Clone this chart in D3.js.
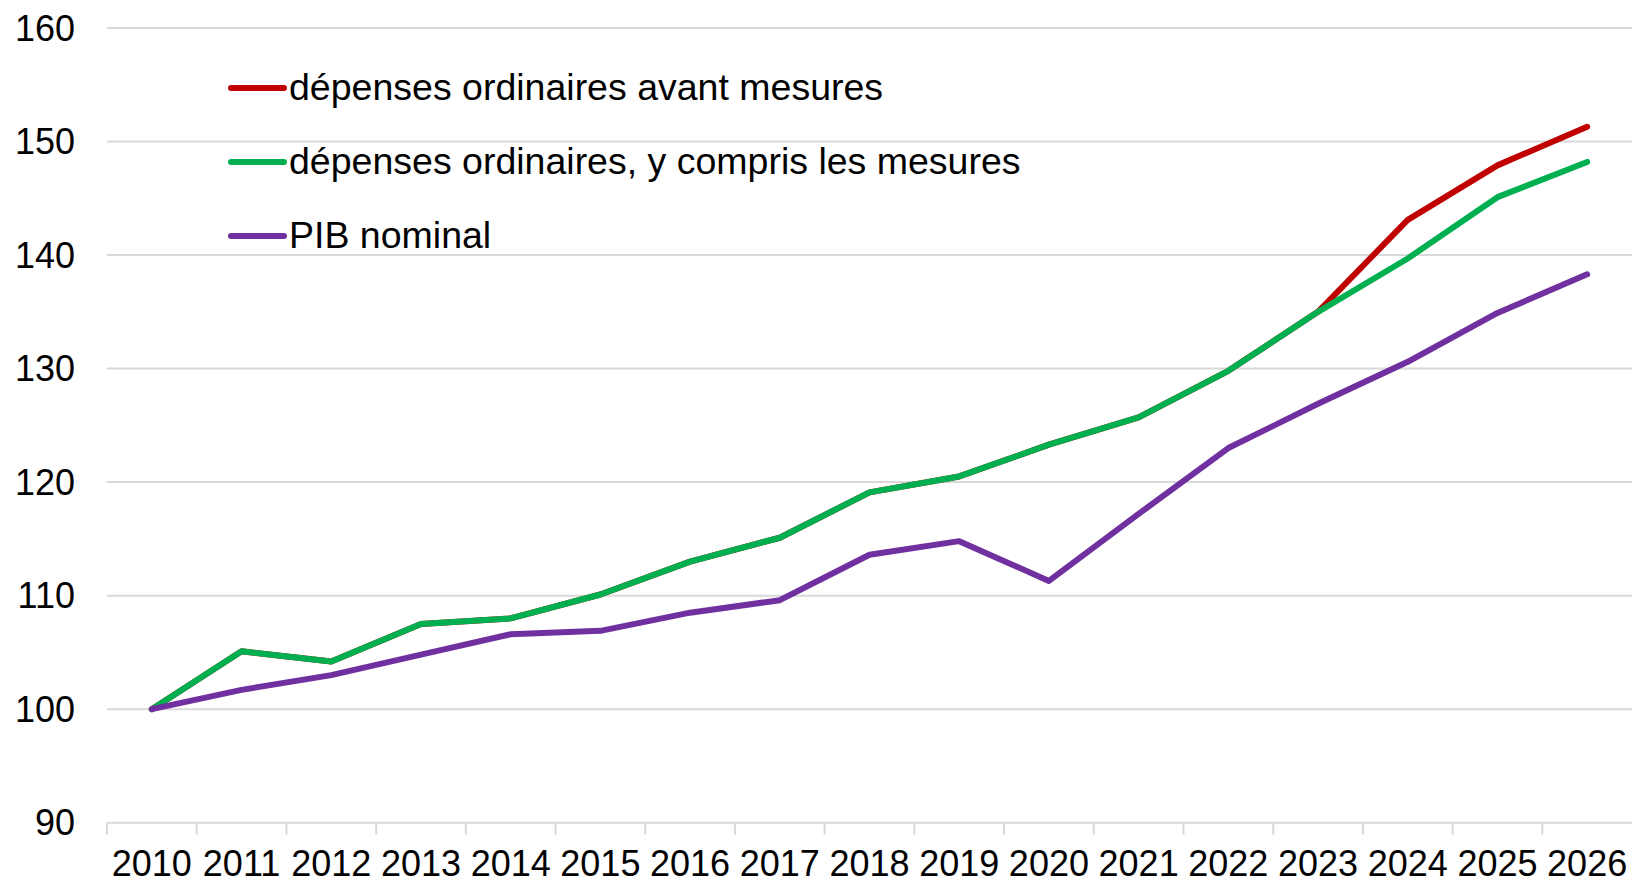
<!DOCTYPE html>
<html>
<head>
<meta charset="utf-8">
<script src="https://cdn.jsdelivr.net/npm/d3@7"></script>
<style>
  html, body { margin: 0; padding: 0; background: #fff; }
  svg { display: block; font-family: "Liberation Sans", Arial, sans-serif; }
</style>
</head>
<body>
<div id="chart"></div>
<script>
// Data
const years = ['2010','2011','2012','2013','2014','2015','2016','2017','2018',
               '2019','2020','2021','2022','2023','2024','2025','2026'];
const avantMesures = [100, 105.1, 104.2, 107.5, 108.0, 110.1, 113.0, 115.1, 119.1,
                      120.5, 123.3, 125.7, 129.8, 135.0, 143.1, 147.9, 151.3];
const avecMesures  = [100, 105.1, 104.2, 107.5, 108.0, 110.1, 113.0, 115.1, 119.1,
                      120.5, 123.3, 125.7, 129.8, 135.0, 139.7, 145.1, 148.2];
const pibNominal   = [100, 101.7, 103.0, 104.8, 106.6, 106.9, 108.5, 109.6, 113.6,
                      114.8, 111.3, 117.2, 123.0, 126.9, 130.6, 134.9, 138.3];
const yTicks = [90, 100, 110, 120, 130, 140, 150, 160];
const seriesNames = ['dépenses ordinaires avant mesures',
                     'dépenses ordinaires, y compris les mesures',
                     'PIB nominal'];
const seriesColors = ['#C00000', '#00B050', '#7030A0'];

const width = 1632, height = 883;
const margin = { top: 28, right: 0, bottom: 60, left: 107 };

const svg = d3.select('#chart')
  .append('svg')
    .attr('width', width)
    .attr('height', height);

// Scales
const x = d3.scaleBand()
  .domain(years)
  .range([margin.left, width - margin.right])
  .padding(0);

const y = d3.scaleLinear()
  .domain([90, 160])
  .range([height - margin.bottom - 0.3, margin.top]);

// Gridlines
svg.append('g')
  .selectAll('line')
  .data(yTicks)
  .join('line')
    .attr('x1', margin.left)
    .attr('x2', width - margin.right)
    .attr('y1', d => y(d))
    .attr('y2', d => y(d))
    .attr('stroke', '#d9d9d9')
    .attr('stroke-width', 2);

// Y labels
svg.append('g')
  .selectAll('text')
  .data(yTicks)
  .join('text')
    .attr('x', 75)
    .attr('y', d => y(d))
    .attr('text-anchor', 'end')
    .attr('dominant-baseline', 'central')
    .style('font-size', '36px')
    .attr('fill', '#000')
    .text(d => d);

// X ticks at band boundaries
svg.append('g')
  .selectAll('line')
  .data(years)
  .join('line')
    .attr('x1', d => x(d))
    .attr('x2', d => x(d))
    .attr('y1', y(90))
    .attr('y2', y(90) + 12)
    .attr('stroke', '#d9d9d9')
    .attr('stroke-width', 2);

// X labels
svg.append('g')
  .selectAll('text')
  .data(years)
  .join('text')
    .attr('x', d => x(d) + x.bandwidth() / 2)
    .attr('y', 876)
    .attr('text-anchor', 'middle')
    .style('font-size', '36px')
    .attr('fill', '#000')
    .text(d => d);

// Lines
const line = d3.line()
  .x((d, i) => x(years[i]) + x.bandwidth() / 2)
  .y(d => y(d));

[avantMesures, avecMesures, pibNominal].forEach((vals, i) => {
  svg.append('path')
    .datum(vals)
    .attr('fill', 'none')
    .attr('stroke', seriesColors[i])
    .attr('stroke-width', 6)
    .attr('stroke-linejoin', 'round')
    .attr('stroke-linecap', 'round')
    .attr('d', line);
});

// Legend
const legendY = [88, 162, 236];
const legend = svg.append('g')
  .selectAll('g')
  .data(seriesNames)
  .join('g')
    .attr('transform', (d, i) => `translate(0,${legendY[i]})`);

legend.append('line')
  .attr('x1', 231)
  .attr('x2', 284)
  .attr('stroke', (d, i) => seriesColors[i])
  .attr('stroke-width', 6)
  .attr('stroke-linecap', 'round');

legend.append('text')
  .attr('x', 289)
  .attr('y', -1)
  .attr('dominant-baseline', 'central')
  .style('font-size', '37.5px')
  .attr('fill', '#000')
  .text(d => d);
</script>
</body>
</html>
